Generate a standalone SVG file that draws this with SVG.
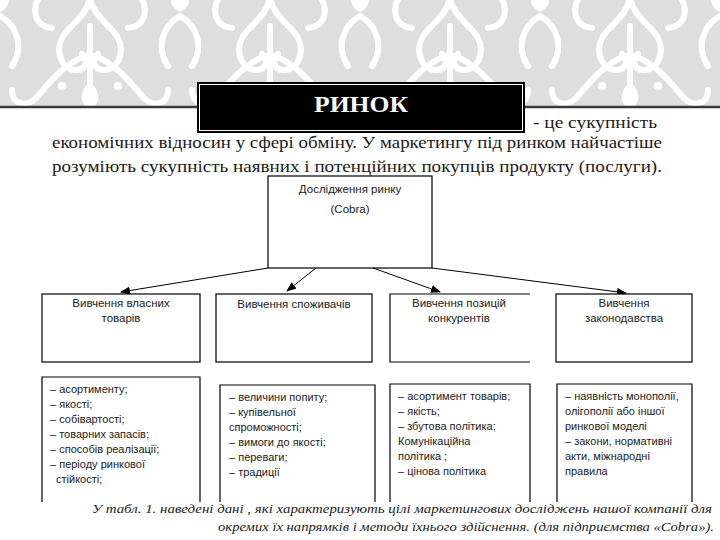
<svg xmlns="http://www.w3.org/2000/svg" width="720" height="540" viewBox="0 0 720 540">
<defs>
<pattern id="damask" x="0" y="-14" width="180" height="124" patternUnits="userSpaceOnUse">
<rect width="180" height="124" fill="#dedede"/>
<g fill="none" stroke="#ffffff" stroke-width="6" stroke-linecap="round">
<path d="M90 10 C88 30 70 38 62 52 C54 68 64 86 78 84 C88 82 88 72 82 68"/>
<path d="M90 10 C92 30 110 38 118 52 C126 68 116 86 102 84 C92 82 92 72 98 68"/>
<path d="M90 40 L90 104"/>
<path d="M86 70 C66 76 50 96 36 112 C26 122 12 118 12 104"/>
<path d="M94 70 C114 76 130 96 144 112 C154 122 168 118 168 104"/>
<path d="M0 30 C18 40 24 62 12 80"/>
<path d="M180 30 C162 40 156 62 168 80"/>
<path d="M42 8 C30 22 34 40 52 42"/>
<path d="M138 8 C150 22 146 40 128 42"/>
</g>
<g fill="#ffffff">
<path d="M90 0 C80 -8 82 -20 90 -24 C98 -20 100 -8 90 0 Z"/>
<path d="M90 96 C78 106 80 118 90 124 C100 118 102 106 90 96 Z"/>
<path d="M0 0 C12 8 12 20 0 26 Z"/>
<path d="M180 0 C168 8 168 20 180 26 Z"/>
<circle cx="62" cy="100" r="4"/>
<circle cx="118" cy="100" r="4"/>
</g>
</pattern>
<marker id="arrow" markerWidth="10" markerHeight="8" refX="9" refY="4" orient="auto" markerUnits="userSpaceOnUse">
<path d="M0 0 L10 4 L0 8 Z" fill="#000"/>
</marker>
<style>
.body{font-size:17px;fill:#1a1a1a}
.box{fill:#ffffff;stroke:#000;stroke-width:1.2}
.lbl{font-family:Arimo,"Liberation Sans",Arial,sans-serif;font-size:11.5px;fill:#222;text-anchor:middle}
.item{font-family:Arimo,"Liberation Sans",Arial,sans-serif;font-size:11px;fill:#222}
.conn{stroke:#000;stroke-width:1;fill:none;marker-end:url(#arrow)}
.cap{font-style:italic;font-size:12px;fill:#222;text-anchor:end}
.ttl{font-weight:bold;font-size:24px;fill:#fff;text-anchor:middle}
</style>
</defs>
<rect width="720" height="540" fill="#ffffff"/>
<rect x="0" y="0" width="720" height="106" fill="url(#damask)"/>
<line x1="0" y1="107" x2="720" y2="107" stroke="#3a3a3a" stroke-width="2.5"/>
<g id="title" font-family="Liberation Serif, Tinos, Times New Roman, DejaVu Serif, serif">
<rect x="197" y="82" width="328" height="51" fill="#000"/>
<rect x="199.5" y="84.5" width="323" height="46" fill="none" stroke="#fff" stroke-width="1"/>
<text class="ttl" x="361" y="112" textLength="94" lengthAdjust="spacingAndGlyphs">РИНОК</text>
</g>
<g id="intro" font-family="Liberation Serif, Tinos, Times New Roman, DejaVu Serif, serif">
<text class="body" x="533" y="128" textLength="124" lengthAdjust="spacingAndGlyphs">-  це сукупність</text>
<text class="body" x="52" y="148" textLength="610" lengthAdjust="spacingAndGlyphs">економічних відносин у сфері обміну.  У маркетингу під ринком найчастіше</text>
<text class="body" x="52" y="172" textLength="610" lengthAdjust="spacingAndGlyphs">розуміють сукупність наявних і потенційних покупців продукту (послуги).</text>
</g>
<g id="root">
<rect class="box" x="268" y="176" width="164" height="92"/>
<text class="lbl" x="350" y="193">Дослідження ринку</text>
<text class="lbl" x="350" y="213">(Cobra)</text>
</g>
<g id="connectors">
<line class="conn" x1="268" y1="268" x2="121" y2="292"/>
<line class="conn" x1="316" y1="268" x2="287" y2="291"/>
<line class="conn" x1="373" y1="268" x2="440" y2="292"/>
<line class="conn" x1="432" y1="268" x2="626" y2="293"/>
</g>
<g id="own-goods">
<rect class="box" x="42" y="294" width="158" height="68"/>
<text class="lbl" x="121" y="307">Вивчення власних</text>
<text class="lbl" x="121" y="322">товарів</text>
</g>
<g id="consumers">
<rect class="box" x="216" y="294" width="156" height="68"/>
<text class="lbl" x="294" y="308">Вивчення споживачів</text>
</g>
<g id="competitors">
<path d="M530 294 H390 V362 H530" fill="#fff" stroke="#000" stroke-width="1.2"/>
<text class="lbl" x="459" y="307">Вивчення позицій</text>
<text class="lbl" x="459" y="322">конкурентів</text>
</g>
<g id="law">
<rect class="box" x="556" y="294" width="136" height="68"/>
<text class="lbl" x="624" y="307">Вивчення</text>
<text class="lbl" x="624" y="322">законодавства</text>
</g>
<g id="goods-list">
<path d="M42 502 V377 H200 V502" fill="#fff" stroke="#000" stroke-width="1.2"/>
<text class="item" x="50" y="393">– асортименту;</text>
<text class="item" x="50" y="408">– якості;</text>
<text class="item" x="50" y="423">– собівартості;</text>
<text class="item" x="50" y="438">– товарних запасів;</text>
<text class="item" x="50" y="453">– способів реалізації;</text>
<text class="item" x="50" y="468">– періоду ринкової</text>
<text class="item" x="56" y="483">стійкості;</text>
</g>
<g id="consumer-list">
<path d="M220 502 V385 H375 V502" fill="#fff" stroke="#000" stroke-width="1.2"/>
<text class="item" x="229" y="401">– величини попиту;</text>
<text class="item" x="229" y="416">– купівельної</text>
<text class="item" x="229" y="431">спроможності;</text>
<text class="item" x="229" y="446">– вимоги до якості;</text>
<text class="item" x="229" y="461">– переваги;</text>
<text class="item" x="229" y="476">– традиції</text>
</g>
<g id="competitor-list">
<path d="M390 502 V384 H530 V502" fill="#fff" stroke="#000" stroke-width="1.2"/>
<text class="item" x="398" y="400">– асортимент товарів;</text>
<text class="item" x="398" y="415">– якість;</text>
<text class="item" x="398" y="430">– збутова політика;</text>
<text class="item" x="398" y="445">Комунікаційна</text>
<text class="item" x="398" y="460">політика ;</text>
<text class="item" x="398" y="475">– цінова політика</text>
</g>
<g id="law-list">
<path d="M557 502 V384 H692 V502" fill="#fff" stroke="#000" stroke-width="1.2"/>
<text class="item" x="565" y="400">– наявність монополії,</text>
<text class="item" x="565" y="415">олігополії або іншої</text>
<text class="item" x="565" y="430">ринкової моделі</text>
<text class="item" x="565" y="445">– закони, нормативні</text>
<text class="item" x="565" y="460">акти, міжнародні</text>
<text class="item" x="565" y="475">правила</text>
</g>
<g id="caption" font-family="Liberation Serif, Tinos, Times New Roman, DejaVu Serif, serif">
<text class="cap" x="712" y="513" textLength="620" lengthAdjust="spacingAndGlyphs">У табл. 1. наведені дані , які характеризують цілі маркетингових досліджень нашої компанії для</text>
<text class="cap" x="714" y="531" textLength="496" lengthAdjust="spacingAndGlyphs">окремих їх напрямків і методи їхнього здійснення. (для підприємства «Cobra»).</text>
</g>
</svg>
